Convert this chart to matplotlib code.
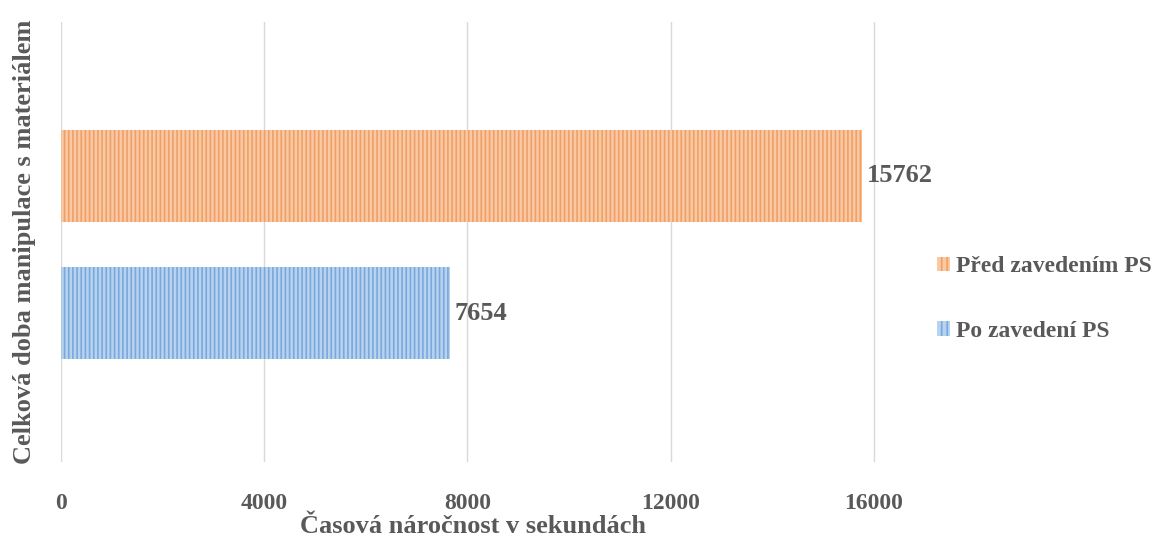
import matplotlib.pyplot as plt
from matplotlib.patches import Patch

plt.rcParams['font.family'] = ['Liberation Serif', 'DejaVu Serif']
plt.rcParams['font.weight'] = 'bold'
plt.rcParams['hatch.linewidth'] = 1.2

series = ["Po zavedení PS", "Před zavedením PS"]
values = [7654, 15762]
face_colors = ["#b9d3ef", "#f9c9a3"]
line_colors = ["#78a9de", "#f0a066"]
ticks = [0, 4000, 8000, 12000, 16000]
txt = "#595959"

fig = plt.figure(figsize=(11.54, 5.44), dpi=100)
ax = fig.add_axes([61 / 1154, 82 / 544, 823 / 1154, 440 / 544])

ypos = [-0.5, 0.5]
for y, v, fc, lc in zip(ypos, values, face_colors, line_colors):
    ax.barh(y, v, height=0.667, color=fc, edgecolor=lc, hatch="||||",
            linewidth=0, zorder=2)
    ax.text(v + 100, y, str(v), va="center", ha="left", fontsize=19,
            color=txt, fontweight="bold", clip_on=False)

ax.set_xlim(0, 16200)
ax.set_ylim(-1.577, 1.613)
ax.set_xticks(ticks)
ax.set_xticklabels([str(t) for t in ticks], fontsize=17, color=txt,
                   fontweight="bold")
ax.tick_params(axis="x", length=0, pad=22)
ax.set_yticks([])
ax.grid(axis="x", color="#d9d9d9", linewidth=1, zorder=0)
for s in ax.spines.values():
    s.set_visible(False)

ax.set_xlabel("Časová náročnost v sekundách", fontsize=19, color=txt,
              fontweight="bold", labelpad=1)
ax.set_ylabel("Celková doba manipulace s materiálem", fontsize=19,
              color=txt, fontweight="bold", labelpad=18)

handles = [Patch(facecolor=face_colors[i], edgecolor=line_colors[i],
                 hatch="|||", linewidth=0) for i in (1, 0)]
fig.legend(handles, [series[1], series[0]], loc="center left",
           bbox_to_anchor=(937 / 1154, 1 - 299 / 544), frameon=False,
           prop={"size": 17, "weight": "bold"}, labelcolor=txt,
           borderpad=0, borderaxespad=0,
           handlelength=0.55, handleheight=0.55, handletextpad=0.25,
           labelspacing=1.85)

fig.savefig("out.png", dpi=100)
